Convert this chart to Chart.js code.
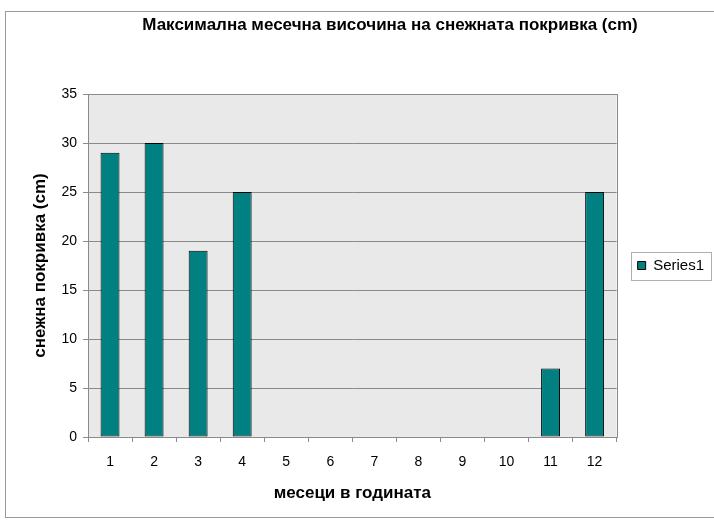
<!DOCTYPE html>
<html>
<head>
<meta charset="utf-8">
<script src="https://cdn.jsdelivr.net/npm/chart.js@4.4.0/dist/chart.umd.min.js"></script>
<style>
  html, body { margin: 0; padding: 0; background: #fff; }
  #wrap { width: 714px; height: 521px; position: relative; }
</style>
</head>
<body>
<div id="wrap"><canvas id="snowChart"></canvas></div>
<script>
// chart data
const months = ['1', '2', '3', '4', '5', '6', '7', '8', '9', '10', '11', '12'];
const snowDepth = [29, 30, 19, 25, 0, 0, 0, 0, 0, 0, 7, 25];
const yMin = 0;
const yMax = 35;
const yStep = 5;
const seriesName = 'Series1';
const chartTitle = 'Максимална месечна височина на снежната покривка (cm)';
const xTitle = 'месеци в годината';
const yTitle = 'снежна покривка (cm)';

const FONT = "'Liberation Sans', Arial, sans-serif";

// draws the excel-like frame, plot background, legend box and title
const excelLook = {
    id: 'excelLook',
    beforeDraw(chart) {
        const ctx = chart.ctx;
        const a = chart.chartArea;
        ctx.save();
        ctx.fillStyle = '#e9e9e9';
        ctx.fillRect(a.left, a.top, a.right - a.left, a.bottom - a.top);
        ctx.restore();
    },
    afterDraw(chart) {
        const ctx = chart.ctx;
        const a = chart.chartArea;
        ctx.save();
        // outer frame
        ctx.strokeStyle = '#9a9a9a';
        ctx.lineWidth = 1;
        ctx.strokeRect(5.5, 11.5, 760, 506);
        // plot border
        ctx.strokeStyle = '#8a8a8a';
        ctx.strokeRect(Math.round(a.left) + 0.5, Math.round(a.top) + 0.5,
            Math.round(a.right - a.left), Math.round(a.bottom - a.top));
        // legend box
        const hb = chart.legend.legendHitBoxes[0];
        if (hb) {
            const cy = hb.top + hb.height / 2;
            ctx.strokeStyle = '#b0b0b0';
            ctx.strokeRect(Math.round(hb.left) - 6.5, Math.round(cy - 14) + 0.5, 80, 28);
        }
        // title
        ctx.fillStyle = '#000';
        ctx.font = 'bold 17px ' + FONT;
        ctx.textAlign = 'center';
        ctx.textBaseline = 'middle';
        ctx.fillText(chartTitle, 390, 25);
        ctx.restore();
    }
};

const ctx = document.getElementById('snowChart').getContext('2d');

const snowGraph = new Chart(ctx, {
    type: 'bar',
    data: {
        labels: months,
        datasets: [{
            label: seriesName,
            data: snowDepth,
            backgroundColor: '#008080',
            borderColor: '#000',
            borderWidth: 1,
            borderSkipped: false,
            categoryPercentage: 1,
            barPercentage: 0.43
        }]
    },
    options: {
        responsive: true,
        maintainAspectRatio: false,
        animation: false,
        layout: {
            padding: { left: 5, right: 0, top: 94, bottom: 10 }
        },
        plugins: {
            title: { display: false },
            tooltip: { enabled: false },
            legend: {
                position: 'right',
                fullSize: false,
                labels: {
                    color: '#000',
                    font: { family: FONT, size: 15 },
                    boxWidth: 8,
                    boxHeight: 8,
                    padding: 21
                }
            }
        },
        scales: {
            x: {
                grid: {
                    display: true,
                    drawOnChartArea: false,
                    color: '#8a8a8a',
                    tickLength: 5
                },
                border: { color: '#8a8a8a' },
                ticks: {
                    color: '#000',
                    font: { family: FONT, size: 14 },
                    padding: 12,
                    maxRotation: 0
                },
                title: {
                    display: true,
                    text: xTitle,
                    color: '#000',
                    font: { family: FONT, size: 17, weight: 'bold' },
                    padding: { top: 4, bottom: 7 }
                },
                afterFit(scale) { scale.height = 74; }
            },
            y: {
                min: yMin,
                max: yMax,
                ticks: {
                    stepSize: yStep,
                    color: '#000',
                    font: { family: FONT, size: 14 },
                    padding: 6
                },
                grid: {
                    color: '#8a8a8a',
                    tickLength: 5
                },
                border: { color: '#8a8a8a' },
                title: {
                    display: true,
                    text: yTitle,
                    color: '#000',
                    font: { family: FONT, size: 17, weight: 'bold' },
                    padding: { top: 25, bottom: 4 }
                },
                afterFit(scale) { scale.width = 83; }
            }
        }
    },
    plugins: [excelLook]
});
</script>
</body>
</html>
